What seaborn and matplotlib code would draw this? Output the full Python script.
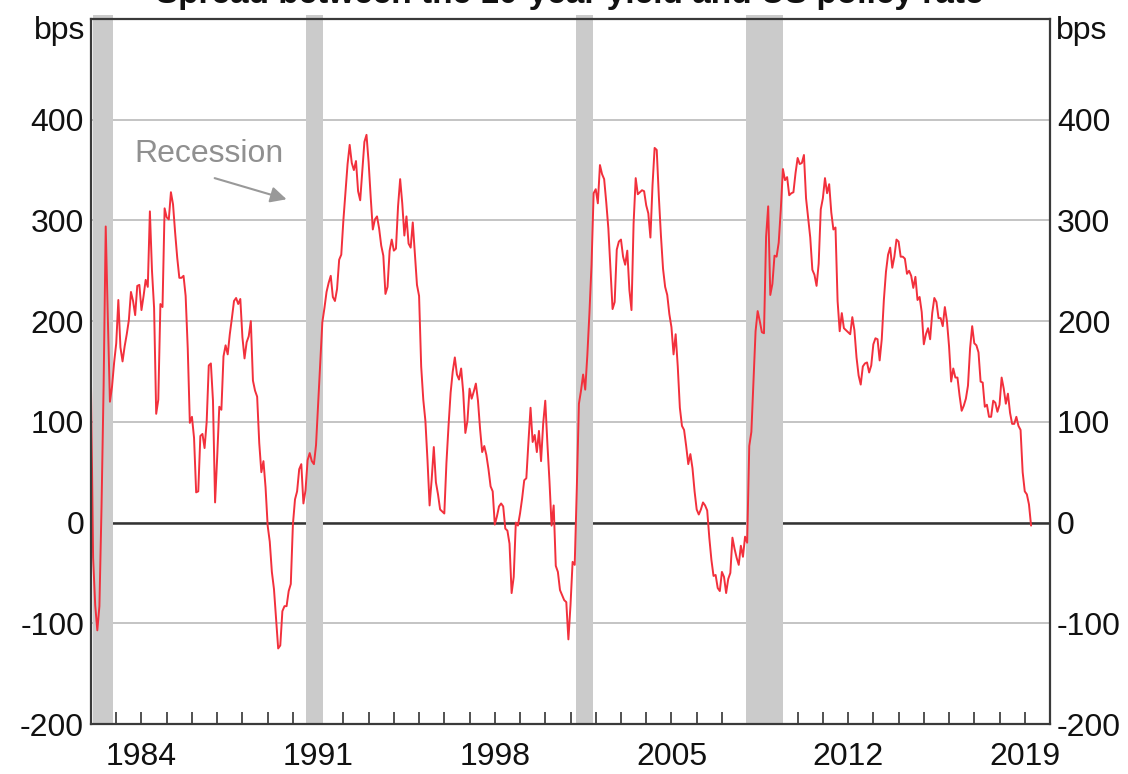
import numpy as np
import matplotlib
matplotlib.use('Agg')
import matplotlib.pyplot as plt
import matplotlib.transforms as mtransforms
import seaborn as sns

# monthly spread, 10-year yield less policy rate (bps), Jan 1982 onwards
first_year = 1982
spread_bps = [
    137, -35, -82, -107, -83, 15, 136, 294, 203, 120, 135, 159,    # 1982
    178, 221, 174, 160, 175, 187, 201, 229, 220, 206, 235, 236,    # 1983
    211, 225, 241, 234, 309, 250, 213, 108, 122, 217, 214, 312,    # 1984
    303, 301, 328, 316, 288, 263, 243, 243, 245, 225, 173, 99,     # 1985
    105, 84, 30, 31, 86, 88, 74, 100, 156, 158, 121, 20,           # 1986
    65, 115, 112, 165, 176, 167, 187, 203, 220, 223, 217, 222,     # 1987
    184, 163, 179, 185, 200, 141, 131, 125, 79, 50, 61, 35,        # 1988
    -3, -19, -49, -66, -95, -125, -122, -88, -83, -83, -68, -61,   # 1989
    -2, 23, 31, 53, 58, 19, 32, 62, 69, 61, 58, 77,                # 1990
    118, 160, 199, 213, 229, 238, 245, 224, 220, 232, 261, 266,    # 1991
    300, 328, 356, 375, 357, 350, 359, 329, 320, 349, 378, 385,    # 1992
    358, 323, 291, 301, 304, 292, 275, 265, 227, 234, 270, 281,    # 1993
    270, 272, 314, 341, 317, 285, 304, 277, 273, 298, 267, 236,    # 1994
    225, 155, 122, 101, 62, 17, 43, 75, 40, 28, 13, 11,            # 1995
    9, 59, 96, 129, 150, 164, 147, 142, 153, 129, 89, 101,         # 1996
    133, 123, 130, 138, 121, 93, 70, 76, 67, 53, 36, 31,           # 1997
    -2, 6, 16, 19, 16, -6, -8, -21, -70, -54, 0, -3,               # 1998
    9, 24, 42, 44, 80, 114, 80, 87, 70, 91, 61, 98,                # 1999
    121, 79, 41, -3, 17, -43, -49, -67, -72, -77, -79, -116,       # 2000
    -82, -39, -42, 34, 118, 131, 147, 132, 166, 208, 256, 327,     # 2001
    331, 317, 355, 346, 341, 318, 292, 252, 212, 219, 271, 279,    # 2002
    281, 264, 256, 270, 231, 211, 297, 342, 326, 328, 330, 329,    # 2003
    315, 307, 283, 335, 372, 370, 324, 285, 252, 234, 226, 207,    # 2004
    194, 167, 187, 155, 114, 96, 92, 76, 58, 68, 54, 31,           # 2005
    13, 8, 13, 20, 17, 12, -15, -37, -53, -52, -65, -68,           # 2006
    -49, -54, -70, -56, -50, -15, -26, -35, -42, -23, -34, -14,    # 2007
    -20, 76, 90, 140, 190, 210, 200, 189, 188, 284, 314, 226,      # 2008
    237, 265, 264, 278, 311, 351, 340, 343, 325, 327, 328, 347,    # 2009
    362, 356, 357, 365, 322, 302, 283, 251, 246, 235, 257, 311,    # 2010
    322, 342, 327, 336, 308, 291, 293, 220, 190, 208, 193, 191,    # 2011
    189, 187, 204, 191, 164, 146, 137, 155, 158, 159, 149, 156,    # 2012
    177, 183, 182, 161, 182, 221, 249, 266, 273, 253, 264, 281,    # 2013
    279, 264, 264, 262, 247, 250, 245, 233, 244, 221, 224, 209,    # 2014
    177, 187, 193, 182, 208, 223, 219, 203, 203, 195, 214, 200,    # 2015
    175, 140, 153, 144, 144, 126, 111, 116, 123, 136, 173, 195,    # 2016
    178, 176, 169, 140, 139, 115, 117, 105, 105, 121, 119, 110,    # 2017
    117, 144, 133, 118, 128, 109, 98, 98, 105, 96, 92, 50,         # 2018
    31, 28, 18, -3,                                                # 2019
]

recession_start = [1982.06, 1990.5, 2001.2, 2007.96]
recession_end = [1982.87, 1991.2, 2001.88, 2009.42]

ytick_values = [-200, -100, 0, 100, 200, 300, 400]
year_labels = [1984, 1991, 1998, 2005, 2012, 2019]

dates = first_year + np.arange(len(spread_bps)) / 12

sns.set_theme(style='white')
plt.rcParams['font.family'] = ['Liberation Sans', 'DejaVu Sans']

fig = plt.figure(figsize=(11.28, 7.74), dpi=100)
ax = fig.add_axes([91 / 1128, 50 / 774, 959 / 1128, 705 / 774])

# grid and zero line sit under the recession bars
ax.set_axisbelow(True)
ax.set_yticks(ytick_values)
ax.yaxis.grid(True, color='#c4c4c4', lw=1.4)
ax.xaxis.grid(False)
ax.axhline(0, color='#333333', lw=1.8, zorder=0.8)

for s, e in zip(recession_start, recession_end):
    ax.axvspan(s, e, ymin=0, ymax=1.006, color='#cbcbcb', lw=0, zorder=1, clip_on=False)

sns.lineplot(x=dates, y=spread_bps, ax=ax, color='#f2303c', lw=1.4,
             estimator=None, zorder=3)

ax.set_xlim(1982, 2020)
ax.set_ylim(-200, 500)
ax.set_xlabel('')
ax.set_ylabel('')

fs = 23
ax.set_yticklabels([str(v) for v in ytick_values])
ax.tick_params(axis='y', length=0, labelsize=fs, labelright=True, pad=5,
               labelcolor='#111111')

ax.set_xticks(year_labels)
ax.set_xticklabels([str(y) for y in year_labels])
ax.set_xticks([y for y in range(1983, 2020) if y not in year_labels], minor=True)
ax.tick_params(axis='x', which='both', direction='in', length=9, width=1.1,
               color='#222222', bottom=True, top=False, labelsize=fs, pad=13,
               labelcolor='#111111')

for sp in ax.spines.values():
    sp.set_color('#3a3a3a')
    sp.set_linewidth(1.6)
    sp.set_zorder(5)

bps_tf = mtransforms.blended_transform_factory(ax.transAxes, ax.transData)
ax.text(-0.006, 488, 'bps', transform=bps_tf, ha='right', va='center',
        fontsize=fs, color='#111111')
ax.text(1.006, 488, 'bps', transform=bps_tf, ha='left', va='center',
        fontsize=fs, color='#111111')

ax.annotate('', xy=(1989.75, 321), xytext=(1986.9, 342),
            arrowprops=dict(arrowstyle='-|>', color='#999999', lw=1.5,
                            mutation_scale=24, shrinkA=0, shrinkB=0))
ax.text(1983.7, 366, 'Recession', ha='left', va='center', fontsize=fs,
        color='#909090')

# title sits mostly above the top edge, as in the source image
fig.text(0.5055, 1 - 3 / 774, 'Spread between the 10-year yield and US policy rate',
         ha='center', va='baseline', fontsize=24, fontweight='bold',
         color='#111111')

fig.savefig('out.png', dpi=100)
